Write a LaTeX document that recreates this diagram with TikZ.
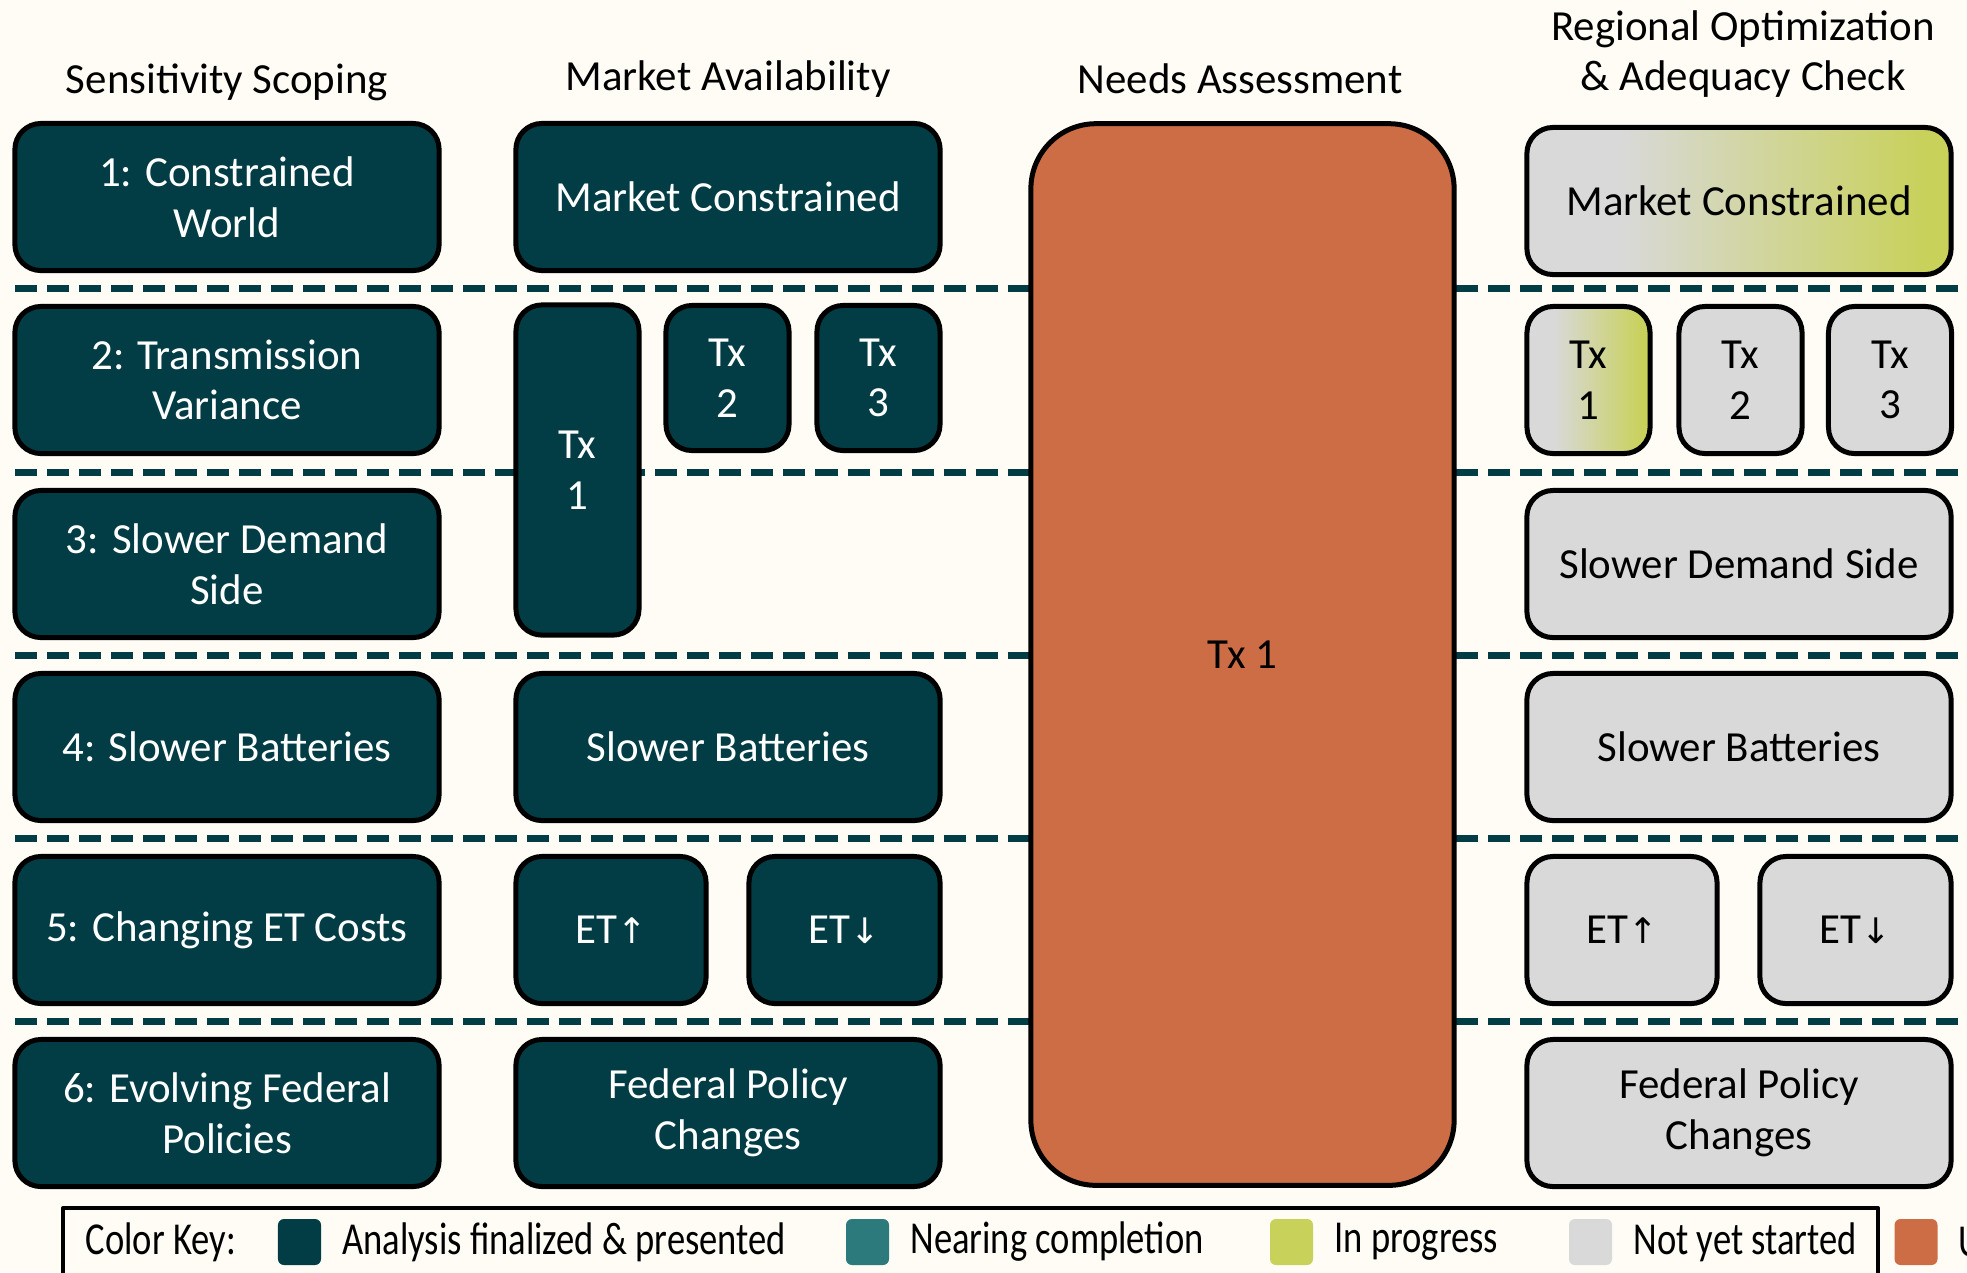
\documentclass[tikz,border=0pt]{standalone}
\usepackage{fontspec}
\setmainfont{Carlito}
\newfontfamily\keyfont[FakeStretch=0.8]{Carlito}
\newfontfamily\symfont{DejaVu Sans}
\usetikzlibrary{positioning}
\definecolor{bgcream}{RGB}{254,252,245}
\definecolor{finalteal}{RGB}{2,60,68}
\definecolor{nearteal}{RGB}{44,122,123}
\definecolor{progreen}{RGB}{200,209,90}
\definecolor{notgray}{RGB}{217,217,217}
\definecolor{needorange}{RGB}{205,109,69}
\pgfdeclarehorizontalshading{grayfade}{100bp}{color(0bp)=(notgray); color(36bp)=(notgray); color(72bp)=(progreen); color(100bp)=(progreen)}
\newcommand{\up}{{\symfont\fontsize{10}{12}\selectfont ↑}}
\newcommand{\down}{{\symfont\fontsize{10}{12}\selectfont ↓}}
\begin{document}
\begin{tikzpicture}[line cap=butt,line join=round, x=0.01cm,y=-0.01cm,
  boxtext/.style={font=\fontsize{12.2}{14.4}\selectfont},
  box/.style={boxtext, draw=black, line width=0.05cm, rounded corners=0.26cm, align=center, inner sep=0pt, minimum width=4.24cm, minimum height=1.47cm},
  done/.style={box, fill=finalteal, text=white},
  todo/.style={box, fill=notgray, text=black},
  partial/.style={box, shade, shading=grayfade, text=black},
  heading/.style={boxtext, align=center, text=black},
  rowsep/.style={draw=finalteal, line width=0.07cm, dash pattern=on 0.22cm off 0.10cm},
  swatch/.style={rounded corners=0.06cm, minimum width=0.43cm, minimum height=0.46cm, inner sep=0pt},
  keytext/.style={font=\keyfont\fontsize{13}{15}\selectfont, inner sep=0pt, anchor=west}]
\fill[bgcream] (0,0) rectangle (1967,1272);
\useasboundingbox (0,0) rectangle (1967,1272);
\foreach \y in {288.5,472,655.5,838.5,1021.5}
  \draw[rowsep] (15,\y) -- (1967,\y);
\node[heading] (hss) at (227,82) {Sensitivity Scoping};
\node[heading] (hma) at (728,79) {Market Availability};
\node[heading] (hna) at (1240,79) {Needs Assessment};
\node[heading] (hro) at (1743,54) {Regional Optimization\\\& Adequacy Check};
\node[done] (ss1) at (227,197) {1: Constrained\\World};
\node[done] (ss2) at (227,380) {2: Transmission\\Variance};
\node[done] (ss3) at (227,564) {3: Slower Demand\\Side};
\node[done] (ss4) at (227,747) {4: Slower Batteries};
\node[done] (ss5) at (227,930) {5: Changing ET Costs};
\node[done] (ss6) at (227,1113) {6: Evolving Federal\\Policies};
\node[done] (ma1) at (728,197) {Market Constrained};
\node[done, minimum width=1.23cm, minimum height=3.30cm] (ma2a) at (577.5,470) {Tx\\1};
\node[done, minimum width=1.23cm, minimum height=1.45cm] (ma2b) at (727.5,378) {Tx\\2};
\node[done, minimum width=1.23cm, minimum height=1.45cm] (ma2c) at (878.5,378) {Tx\\3};
\node[done] (ma4) at (728,747) {Slower Batteries};
\node[done, minimum width=1.90cm] (ma5a) at (611,930) {ET\up};
\node[done, minimum width=1.91cm] (ma5b) at (844.5,930) {ET\down};
\node[done] (ma6) at (728,1113) {Federal Policy\\Changes};
\node[box, fill=needorange, text=black, minimum width=4.23cm, minimum height=10.61cm, rounded corners=0.65cm] (na) at (1242.5,654.5) {Tx 1};
\node[partial] (ro1) at (1739,201) {Market Constrained};
\node[partial, minimum width=1.23cm] (ro2a) at (1588.5,380) {Tx\\1};
\node[todo, minimum width=1.23cm] (ro2b) at (1740.5,380) {Tx\\2};
\node[todo, minimum width=1.23cm] (ro2c) at (1890,380) {Tx\\3};
\node[todo] (ro3) at (1739,564) {Slower Demand Side};
\node[todo] (ro4) at (1739,747) {Slower Batteries};
\node[todo, minimum width=1.90cm] (ro5a) at (1622,930) {ET\up};
\node[todo, minimum width=1.91cm] (ro5b) at (1855.5,930) {ET\down};
\node[todo] (ro6) at (1739,1113) {Federal Policy\\Changes};
\draw[black, line width=0.04cm, fill=bgcream] (63,1208) rectangle (1878,1300);
\node[keytext] (kkey) at (85,1242) {Color Key:};
\node[swatch, fill=finalteal] (kfinal) at (299.5,1242) {};
\node[keytext, right=0.20cm of kfinal] (tfinal) {Analysis finalized \& presented};
\node[swatch, fill=nearteal] (knear) at (867.5,1242) {};
\node[keytext, right=0.20cm of knear] (tnear) {Nearing completion};
\node[swatch, fill=progreen] (kprog) at (1291.5,1242) {};
\node[keytext, right=0.20cm of kprog] (tprog) {In progress};
\node[swatch, fill=notgray] (knot) at (1590.5,1242) {};
\node[keytext, right=0.20cm of knot] (tnot) {Not yet started};
\node[swatch, fill=needorange] (kneed) at (1916,1242) {};
\node[keytext, right=0.20cm of kneed] (tneed) {U};
\end{tikzpicture}
\end{document}
